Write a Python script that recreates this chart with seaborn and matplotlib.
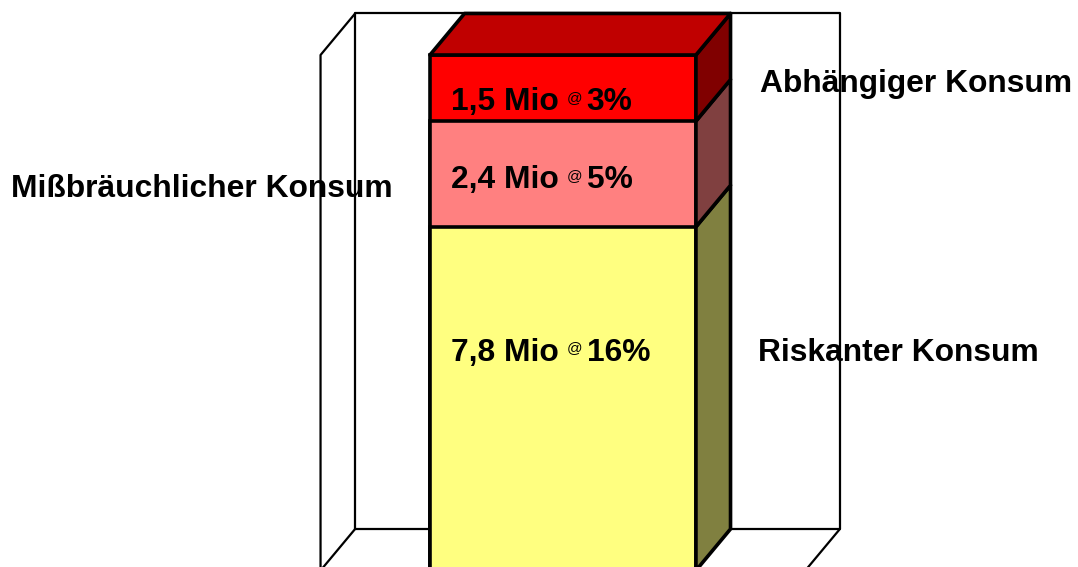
import matplotlib
matplotlib.use("Agg")
import matplotlib.pyplot as plt
import seaborn as sns
import numpy as np

# Daten, von unten nach oben gestapelt
kategorien = ["Riskanter Konsum", "Mißbräuchlicher Konsum", "Abhängiger Konsum"]
mio = [7.8, 2.4, 1.5]
prozent = [16, 5, 3]

# Farben: Vorderseite, Seitenfläche, Deckel
farbe_front = ["#FFFF80", "#FF8080", "#FF0000"]
farbe_seite = ["#808040", "#804040", "#800000"]
farbe_deckel = "#C00000"

# Layout (3D-Tiefe und Wände in Datenkoordinaten)
tiefe_x, tiefe_y = 0.104, 0.942
wand_halb = 0.729
label_pos = [(0.586, 4.762), (-1.660, 8.477), (0.594, 10.867)]
wert_pos = [(-0.337, 4.762), (-0.337, 8.682), (-0.337, 10.452)]

sns.set_theme(style="white")
plt.rcParams["font.family"] = ["Liberation Sans", "DejaVu Sans"]

fig = plt.figure(figsize=(10.78, 5.67), dpi=100)
ax = fig.add_axes([0, 0, 1, 1])

oben = np.cumsum(mio)
unten = oben - np.array(mio)

# gestapelte Säule: Summen von oben nach unten übereinander zeichnen
for i in reversed(range(len(mio))):
    sns.barplot(x=["Konsum"], y=[oben[i]], color=farbe_front[i], saturation=1,
                width=0.8, edgecolor="black", linewidth=2.6, errorbar=None,
                ax=ax, zorder=3)

bar = ax.patches[0]
x0 = bar.get_x()
x1 = x0 + bar.get_width()

flaeche = dict(edgecolor="black", linewidth=2.6, joinstyle="round", zorder=3)

# Seitenflächen
for i in range(len(mio)):
    ax.fill([x1, x1 + tiefe_x, x1 + tiefe_x, x1],
            [unten[i], unten[i] + tiefe_y, oben[i] + tiefe_y, oben[i]],
            facecolor=farbe_seite[i], **flaeche)

# Deckel
h = oben[-1]
ax.fill([x0, x0 + tiefe_x, x1 + tiefe_x, x1], [h, h + tiefe_y, h + tiefe_y, h],
        facecolor=farbe_deckel, **flaeche)

# Wände und Boden
wl, wr = -wand_halb, wand_halb
wand = dict(color="black", linewidth=1.6, zorder=1, solid_joinstyle="round")
ax.plot([wl + tiefe_x, wl + tiefe_x, wr + tiefe_x, wr + tiefe_x, wl + tiefe_x],
        [tiefe_y, h + tiefe_y, h + tiefe_y, tiefe_y, tiefe_y], **wand)
ax.plot([wl, wl, wl + tiefe_x], [0, h, h + tiefe_y], **wand)
ax.plot([wl, wl + tiefe_x], [0, tiefe_y], **wand)
ax.plot([wr, wr + tiefe_x], [0, tiefe_y], **wand)

gross = dict(fontsize=22.9, fontweight="bold", color="black")

for i, kat in enumerate(kategorien):
    ax.text(label_pos[i][0], label_pos[i][1], kat, ha="left", va="baseline",
            zorder=5, **gross)

for i in range(len(mio)):
    y = wert_pos[i][1]
    t1 = ax.text(wert_pos[i][0], y, f"{mio[i]:.1f}".replace(".", ",") + " Mio",
                 ha="left", va="baseline", zorder=5, **gross)
    t2 = ax.annotate("@", xy=(1, y), xycoords=(t1, "data"), xytext=(5.5, 6),
                     textcoords="offset points", ha="left", va="baseline",
                     fontsize=11, color="black", zorder=5)
    ax.annotate(f"{prozent[i]}%", xy=(1, y), xycoords=(t2, "data"), xytext=(3.5, 0),
                textcoords="offset points", ha="left", va="baseline", zorder=5,
                **gross)

ax.set_xlim(-1.693, 1.549)
ax.set_ylim(0.079, 12.948)
ax.set_axis_off()

fig.savefig("out.png", dpi=100)
